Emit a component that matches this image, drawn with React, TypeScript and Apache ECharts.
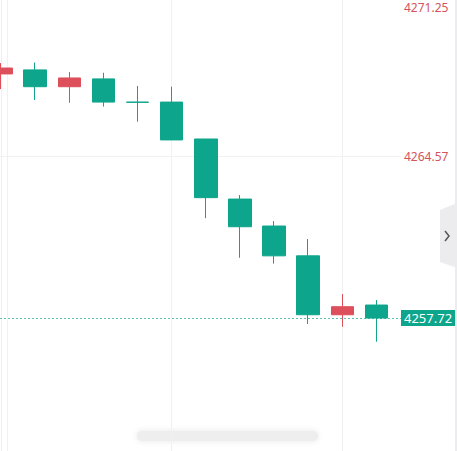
import { useEffect, useRef } from 'react';
import * as echarts from 'echarts';

// candle positions (index along the time axis)
const candleIndex = [0, 1, 2, 3, 4, 5, 6, 7, 8, 9, 10, 11];
const opens = [4268.04, 4268.21, 4267.5, 4267.83, 4266.85, 4266.85, 4265.29, 4262.75, 4261.61, 4260.35, 4257.86, 4258.27];
const closes = [4268.29, 4267.5, 4267.87, 4266.85, 4266.84, 4265.25, 4262.81, 4261.58, 4260.35, 4257.86, 4258.2, 4257.72];
const lows = [4267.4, 4266.94, 4266.82, 4266.66, 4266.02, 4265.25, 4261.94, 4260.27, 4260.02, 4257.47, 4257.35, 4256.72];
const highs = [4268.5, 4268.52, 4268.12, 4268.09, 4267.53, 4267.5, 4265.29, 4262.92, 4261.82, 4261.06, 4258.73, 4258.48];

const priceTicks = [4264.57, 4271.25];
const lastPrice = 4257.72;
const timeGridLines = [0.18, 5, 10];

const UP = '#dd4f5b';
const DOWN = '#0da58b';
const GRID = '#f1f1f4';

export default function App() {
  const chartRef = useRef<HTMLDivElement>(null);

  useEffect(() => {
    document.body.style.margin = '0';
    if (!chartRef.current) return;
    const chart = echarts.init(chartRef.current, undefined, { renderer: 'svg' });

    const data = candleIndex.map((x, i) => [x, opens[i], closes[i], lows[i], highs[i]]);

    chart.setOption({
      animation: false,
      grid: { left: 0, right: 56, top: -2, bottom: 0, outerBoundsMode: 'none', containLabel: false },
      xAxis: {
        type: 'value',
        min: -0.033,
        max: 11.72,
        axisLine: { show: false },
        axisTick: { show: false },
        axisLabel: { show: false },
        splitLine: { show: false }
      },
      yAxis: {
        type: 'value',
        position: 'right',
        min: 4252.1,
        max: 4271.25,
        axisLine: { show: true, lineStyle: { color: GRID } },
        axisTick: { show: false, customValues: priceTicks },
        splitLine: { show: false },
        axisLabel: {
          customValues: priceTicks,
          color: '#d4535d',
          fontSize: 12,
          fontFamily: 'Noto Sans',
          lineHeight: 18,
          margin: 3,
          // top label sits inside the chart, pushed down below its tick
          formatter: (v: number) => (v >= 4271 ? '\n' + v.toFixed(2) : v.toFixed(2))
        }
      },
      series: [
        {
          type: 'candlestick',
          data,
          encode: { x: 0, y: [1, 2, 3, 4] },
          barWidth: 23,
          itemStyle: {
            color: UP,
            color0: DOWN,
            borderColor: UP,
            borderColor0: DOWN,
            borderWidth: 1
          },
          markLine: {
            silent: true,
            z: 1,
            symbol: ['none', 'none'],
            label: { show: false },
            lineStyle: { color: GRID, width: 1, type: 'solid' },
            data: [
              ...timeGridLines.map((x) => ({ xAxis: x })),
              { yAxis: priceTicks[0] },
              {
                yAxis: lastPrice,
                lineStyle: { color: '#5cc3ae', width: 1, type: [2, 2] },
                label: {
                  show: true,
                  position: 'end',
                  distance: 0,
                  formatter: lastPrice.toFixed(2),
                  color: '#ffffff',
                  backgroundColor: DOWN,
                  fontSize: 13,
                  fontFamily: 'Noto Sans',
                  padding: [2, 3, 1, 3]
                }
              }
            ]
          }
        }
      ],
      graphic: [
        {
          type: 'polygon',
          shape: { points: [[440, 210], [457, 203], [457, 268], [440, 262]] },
          style: { fill: '#ececef' }
        },
        {
          type: 'polyline',
          shape: { points: [[445, 231], [449, 236], [445, 241]] },
          style: { stroke: '#555', lineWidth: 1.5, fill: 'none' }
        },
        {
          type: 'rect',
          shape: { x: 455, y: 0, width: 2, height: 451 },
          style: { fill: '#ececf0' }
        },
        {
          type: 'rect',
          shape: { x: 137, y: 431, width: 181, height: 10, r: 5 },
          style: { fill: '#eeeeee', shadowBlur: 6, shadowColor: '#e6e6e6' }
        }
      ]
    });

    return () => {
      chart.dispose();
    };
  }, []);

  return <div ref={chartRef} style={{ width: 457, height: 451 }} />;
}
